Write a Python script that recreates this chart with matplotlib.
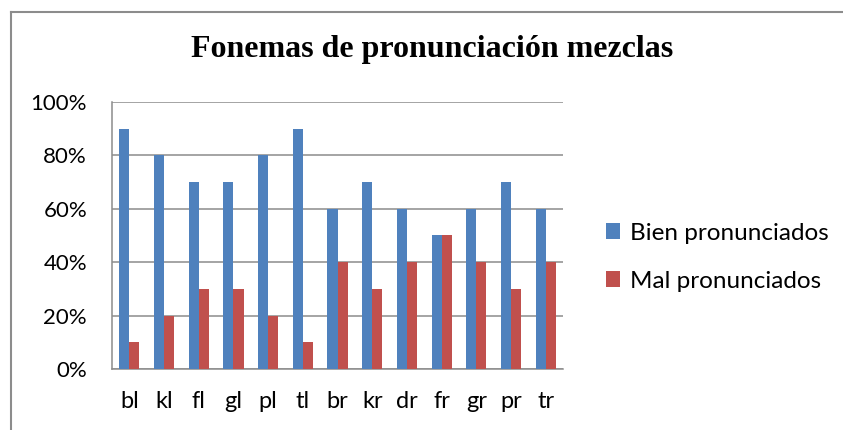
import numpy as np
import matplotlib
matplotlib.use("Agg")
import matplotlib.pyplot as plt
from matplotlib.lines import Line2D
from matplotlib.ticker import PercentFormatter

# data
fonemas = ["bl", "kl", "fl", "gl", "pl", "tl", "br", "kr", "dr", "fr", "gr", "pr", "tr"]
bien = [90, 80, 70, 70, 80, 90, 60, 70, 60, 50, 60, 70, 60]
mal = [10, 20, 30, 30, 20, 10, 40, 30, 40, 50, 40, 30, 40]
y_ticks = [0, 20, 40, 60, 80, 100]

blue = "#4F81BD"
red = "#C0504D"
grid_col = "#8C8C8C"

plt.rcParams["font.family"] = ["Lato", "DejaVu Sans"]

fig = plt.figure(figsize=(8.43, 4.30), dpi=100)
ax = fig.add_axes([0.1329, 0.1419, 0.535, 0.6209])

x = np.arange(len(fonemas))
w = 0.29
ax.bar(x - w / 2, bien, w, color=blue, label="Bien pronunciados", zorder=3)
ax.bar(x + w / 2, mal, w, color=red, label="Mal pronunciados", zorder=3)

ax.set_xlim(-0.5, len(fonemas) - 0.5)
ax.set_ylim(0, 100)
ax.set_yticks(y_ticks)
ax.yaxis.set_major_formatter(PercentFormatter(decimals=0))
ax.set_xticks(x)
ax.set_xticklabels(fonemas)
ax.tick_params(axis="both", length=0)
ax.tick_params(axis="x", pad=16, labelsize=17)
ax.tick_params(axis="y", pad=18, labelsize=16)

ax.grid(axis="y", color=grid_col, linewidth=1.1, zorder=0)
for s in ["top", "right"]:
    ax.spines[s].set_visible(False)
for s in ["left", "bottom"]:
    ax.spines[s].set_color(grid_col)
    ax.spines[s].set_linewidth(1.1)

fig.text(0.513, 0.885, "Fonemas de pronunciación mezclas", ha="center", va="center",
         fontsize=23, fontweight="bold", family="Liberation Serif")

leg = fig.legend(loc="center left", bbox_to_anchor=(0.704, 0.402), frameon=False,
                 fontsize=17.5, handlelength=0.6, handleheight=0.6, handletextpad=0.4,
                 labelspacing=1.1, borderpad=0)

# outer chart frame (cropped on right and bottom)
fig.add_artist(Line2D([0.0125, 0.0125], [0, 0.972], color="#8C8C8C", linewidth=1.5))
fig.add_artist(Line2D([0.0125, 1.0], [0.972, 0.972], color="#8C8C8C", linewidth=1.5))

fig.savefig("out.png", dpi=100)
